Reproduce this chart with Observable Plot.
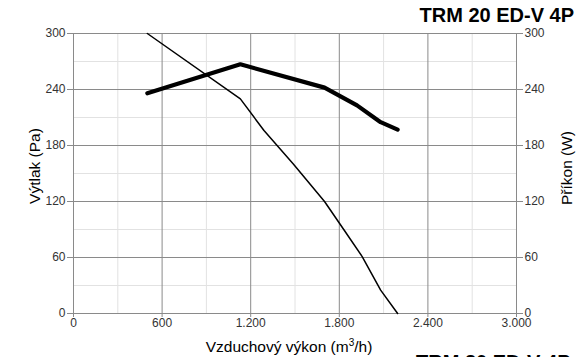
<!DOCTYPE html>
<html>
<head>
<meta charset="utf-8">
<script src="https://cdn.jsdelivr.net/npm/d3@7"></script>
<script src="https://cdn.jsdelivr.net/npm/@observablehq/plot@0.6"></script>
<style>
  html, body { margin: 0; padding: 0; background: white; overflow: hidden; }
  #wrap { position: relative; width: 576px; height: 357px; font-family: "Liberation Sans", Arial, sans-serif; }
  #chart { position: absolute; left: 0; top: 0; }
  .title { position: absolute; font-weight: bold; font-size: 20px; line-height: 20px; color: #000; white-space: nowrap; }
  .lab { position: absolute; font-size: 15.5px; line-height: 16px; color: #000; white-space: nowrap; }
</style>
</head>
<body>
<div id="wrap">
  <div id="chart"></div>
  <div class="title" style="right:2px; top:5px;">TRM 20 ED-V 4P</div>
  <div class="title" style="left:416px; top:352px;">TRM 20 ED-V 4P</div>
  <div class="lab" style="left:35px; top:166px; transform: translate(-50%,-50%) rotate(-90deg);">Výtlak (Pa)</div>
  <div class="lab" style="left:567px; top:168px; transform: translate(-50%,-50%) rotate(-90deg);">Příkon (W)</div>
  <div class="lab" style="left:289px; top:347px; transform: translate(-50%,-50%);">Vzduchový výkon (m<sup style="font-size:10px;line-height:0">3</sup>/h)</div>
</div>
<script>
// Data
const xTicks = [0, 600, 1200, 1800, 2400, 3000];
const xMinor = [300, 900, 1500, 2100, 2700];
const yTicks = [0, 60, 120, 180, 240, 300];
const yMinor = [30, 90, 150, 210, 270];

// Pressure curve (Výtlak, Pa) vs airflow (m3/h)
const pressureFlow = [500, 1130, 1290, 1490, 1700, 1830, 1955, 2080, 2195];
const pressureVals = [300, 230, 196, 160, 120, 90, 61, 25, 0];

// Power curve (Příkon, W) vs airflow (m3/h)
const powerFlow = [500, 1130, 1700, 1920, 2080, 2195];
const powerVals = [236, 267, 242, 223, 205, 197];

const pressure = pressureFlow.map((x, i) => ({x, y: pressureVals[i]}));
const power = powerFlow.map((x, i) => ({x, y: powerVals[i]}));

const fmt = d3.formatLocale({decimal: ",", thousands: ".", grouping: [3], currency: ["", ""]}).format(",");

const chart = Plot.plot({
  width: 576,
  height: 357,
  marginLeft: 73,
  marginRight: 60,
  marginTop: 33,
  marginBottom: 44,
  style: {fontFamily: "'Liberation Sans', Arial, sans-serif", fontSize: "12px", background: "white"},
  x: {domain: [0, 3000]},
  y: {domain: [0, 300]},
  marks: [
    Plot.gridX(xMinor, {stroke: "#e2e2e2", strokeOpacity: 1, strokeWidth: 1}),
    Plot.gridY(yMinor, {stroke: "#e2e2e2", strokeOpacity: 1, strokeWidth: 1}),
    Plot.gridX(xTicks, {stroke: "#8a8a8a", strokeOpacity: 1, strokeWidth: 1}),
    Plot.gridY(yTicks, {stroke: "#8a8a8a", strokeOpacity: 1, strokeWidth: 1}),
    Plot.axisX({ticks: xTicks, tickFormat: fmt, tickSize: 4, tickPadding: 1, label: null, stroke: "#8a8a8a", fill: "#333"}),
    Plot.axisY({ticks: yTicks, anchor: "left", tickSize: 6, tickPadding: 2, label: null, stroke: "#8a8a8a", fill: "#333"}),
    Plot.axisY({ticks: yTicks, anchor: "right", tickSize: 6, tickPadding: 2, label: null, stroke: "#8a8a8a", fill: "#333"}),
    Plot.line(pressure, {x: "x", y: "y", stroke: "black", strokeWidth: 1.5}),
    Plot.line(power, {x: "x", y: "y", stroke: "black", strokeWidth: 4.2})
  ]
});
document.getElementById("chart").appendChild(chart);
</script>
</body>
</html>
